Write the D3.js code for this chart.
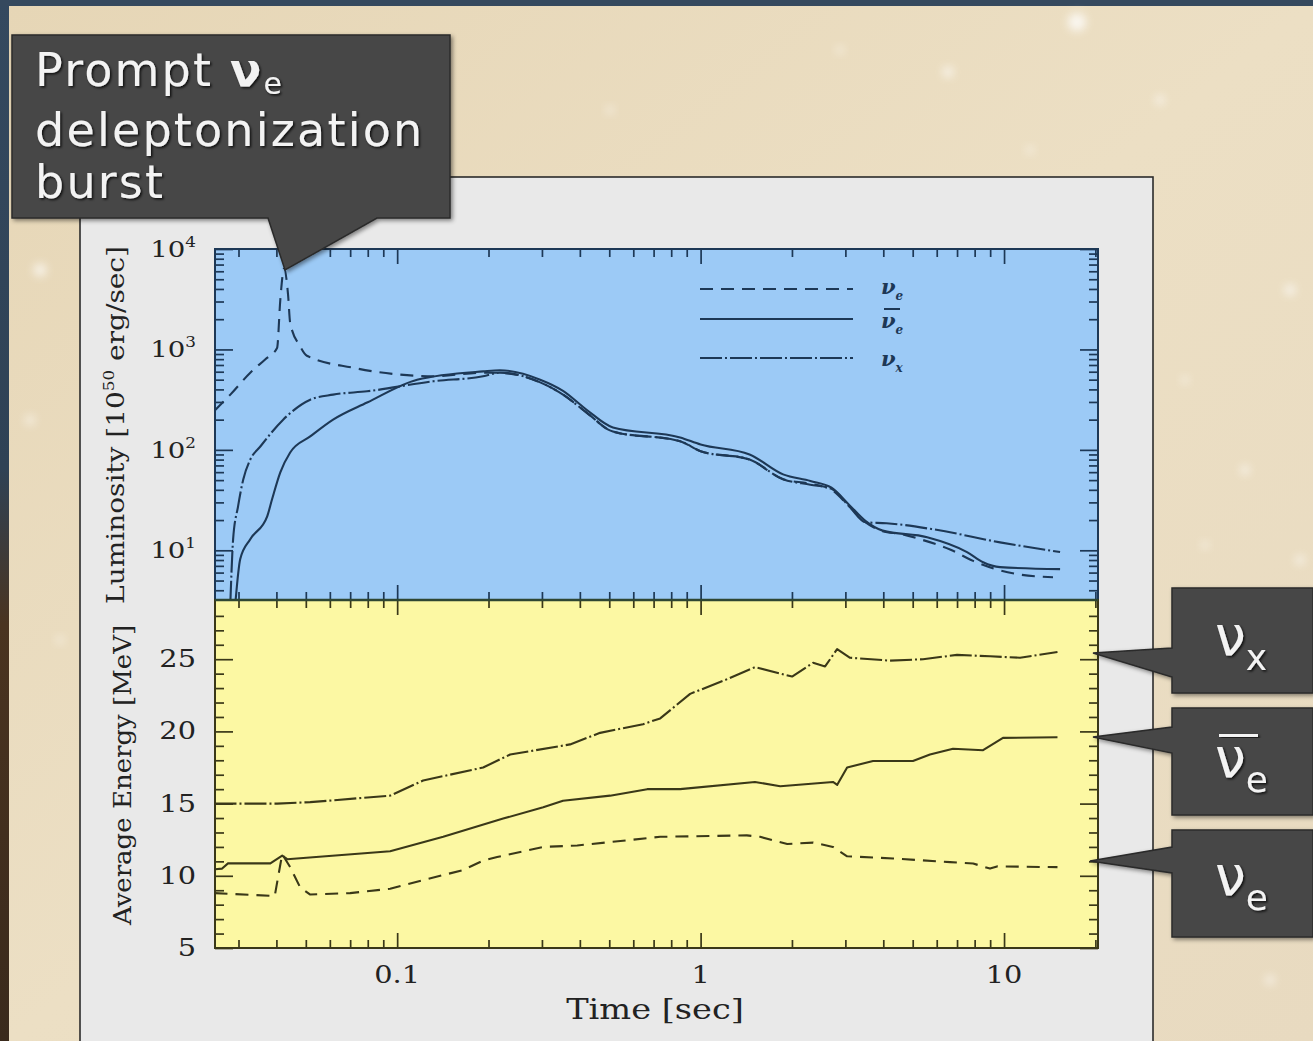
<!DOCTYPE html>
<html>
<head>
<meta charset="utf-8">
<script src="https://cdn.jsdelivr.net/npm/d3@7"></script>
<style>
  body { margin: 0; overflow: hidden; background: #e9dcc0; }
  svg { display: block; }
</style>
</head>
<body>
<svg id="chart" width="1313" height="1041"></svg>
<script>
// ---- Luminosity [10^50 erg/s] vs time [s] ----
const lumTimeNuE = [0.025, 0.0282, 0.0328, 0.0368, 0.0402, 0.0412, 0.0424, 0.0437, 0.0444, 0.0479, 0.0504, 0.0716, 0.1023, 0.1314, 0.192, 0.218, 0.296, 0.352, 0.421, 0.514, 0.856, 1.0, 1.45, 1.87, 2.3, 2.7, 3.1, 3.5, 3.98, 4.6, 5.29, 6.64, 7.91, 11.0, 14.5];
const lumNuE     = [245, 355, 587, 800, 1032, 3120, 6400, 3500, 1841, 1072, 865, 657, 561, 540, 587, 585, 470, 355, 235, 152, 122, 97, 80, 51, 46, 40, 27, 19, 15.5, 14.5, 12.9, 10.2, 7.85, 5.8, 5.4];

const lumTimeNuEbar = [0.0293, 0.0304, 0.0328, 0.0373, 0.0387, 0.0412, 0.0444, 0.0517, 0.0615, 0.0796, 0.1164, 0.192, 0.218, 0.296, 0.352, 0.421, 0.514, 0.856, 1.0, 1.45, 1.87, 2.3, 2.7, 3.1, 3.5, 3.98, 5.58, 7.55, 8.53, 9.7, 15.3];
const lumNuEbar     = [3.0, 8.2, 12.9, 21.8, 32.2, 59.7, 94.2, 136, 200, 296, 500, 605, 620, 500, 387, 251, 167, 133, 113, 90, 57, 49, 42, 28, 19.5, 15.7, 13.5, 9.6, 7.6, 6.8, 6.5];

const lumTimeNuX = [0.0282, 0.0288, 0.0299, 0.0311, 0.0328, 0.0354, 0.0421, 0.0517, 0.0615, 0.0796, 0.1314, 0.192, 0.218, 0.296, 0.352, 0.421, 0.514, 0.856, 1.0, 1.45, 1.87, 2.3, 2.7, 3.1, 3.5, 4.1, 5.83, 9.7, 15.3];
const lumNuX     = [3.0, 12.9, 27.4, 50.8, 80, 108, 200, 316, 355, 383, 482, 540, 587, 470, 355, 235, 152, 122, 97, 80, 51, 45, 41, 27, 19, 18.6, 16.2, 12.0, 9.6];

// ---- Average energy [MeV] vs time [s] ----
const engTimeNuE = [0.025, 0.0395, 0.0405, 0.0418, 0.0444, 0.0479, 0.0517, 0.070, 0.0948, 0.1218, 0.165, 0.192, 0.2136, 0.303, 0.392, 0.736, 1.42, 1.57, 1.93, 2.35, 2.73, 3.04, 4.31, 6.64, 7.91, 8.99, 9.48, 15.0];
const engNuE     = [8.8, 8.6, 9.9, 11.5, 10.6, 9.2, 8.7, 8.8, 9.1, 9.7, 10.4, 11.05, 11.3, 12.0, 12.1, 12.7, 12.8, 12.7, 12.2, 12.3, 12.0, 11.35, 11.2, 10.95, 10.85, 10.5, 10.65, 10.6];

const engTimeNuEbar = [0.025, 0.0265, 0.0277, 0.0382, 0.0418, 0.0434, 0.0948, 0.1418, 0.2235, 0.303, 0.352, 0.503, 0.667, 0.856, 1.51, 1.83, 2.73, 2.82, 3.04, 3.70, 5.01, 5.70, 6.79, 8.53, 9.92, 15.0];
const engNuEbar     = [10.45, 10.5, 10.86, 10.86, 11.4, 11.15, 11.7, 12.7, 13.96, 14.75, 15.2, 15.55, 16.0, 16.0, 16.5, 16.2, 16.5, 16.3, 17.5, 17.95, 17.95, 18.4, 18.8, 18.7, 19.55, 19.6];

const engTimeNuX = [0.025, 0.0402, 0.0517, 0.0948, 0.1218, 0.192, 0.2357, 0.3715, 0.4665, 0.646, 0.736, 0.9235, 1.186, 1.512, 2.002, 2.348, 2.572, 2.818, 3.109, 4.21, 5.41, 7.0, 8.99, 11.29, 15.0];
const engNuX     = [15.0, 15.0, 15.1, 15.55, 16.6, 17.5, 18.4, 19.1, 19.9, 20.5, 20.9, 22.6, 23.5, 24.45, 23.8, 24.75, 24.5, 25.7, 25.1, 24.9, 25.0, 25.3, 25.2, 25.1, 25.5];

// ---- Axis ticks / labels ----
const timeMajor = [0.1, 1, 10];
const timeLabels = ["0.1", "1", "10"];
const lumMajor = [10, 100, 1000, 10000];
const lumLabelExp = ["1", "2", "3", "4"];
const engMajor = [5, 10, 15, 20, 25];
const engLabels = ["5", "10", "15", "20", "25"];

// ---- Layout ----
const W = 1313, H = 1041;
const plotL = 215, plotR = 1098, topT = 249, mid = 600, botB = 948;

const svg = d3.select("#chart");
const defs = svg.append("defs");

// soft glow for background specks
const blur = defs.append("filter").attr("id", "speck").attr("x", "-100%").attr("y", "-100%").attr("width", "300%").attr("height", "300%");
blur.append("feGaussianBlur").attr("stdDeviation", 5);

const shadow = defs.append("filter").attr("id", "boxShadow").attr("x", "-10%").attr("y", "-10%").attr("width", "130%").attr("height", "130%");
shadow.append("feDropShadow").attr("dx", 2).attr("dy", 2).attr("stdDeviation", 2).attr("flood-color", "#000").attr("flood-opacity", 0.45);

const txtShadow = defs.append("filter").attr("id", "txtShadow").attr("x", "-10%").attr("y", "-20%").attr("width", "130%").attr("height", "150%");
txtShadow.append("feDropShadow").attr("dx", 1.5).attr("dy", 1.5).attr("stdDeviation", 0.8).attr("flood-color", "#000").attr("flood-opacity", 0.8);

const bgGrad = defs.append("linearGradient").attr("id", "bgGrad").attr("x1", 0).attr("y1", 0).attr("x2", 1).attr("y2", 1);
bgGrad.append("stop").attr("offset", "0%").attr("stop-color", "#e6d6b6");
bgGrad.append("stop").attr("offset", "50%").attr("stop-color", "#ecdfc4");
bgGrad.append("stop").attr("offset", "100%").attr("stop-color", "#e8dac0");

const edgeGrad = defs.append("linearGradient").attr("id", "edgeGrad").attr("x1", 0).attr("y1", 0).attr("x2", 0).attr("y2", 1);
edgeGrad.append("stop").attr("offset", "0%").attr("stop-color", "#34495f");
edgeGrad.append("stop").attr("offset", "45%").attr("stop-color", "#2f4255");
edgeGrad.append("stop").attr("offset", "60%").attr("stop-color", "#4a3420");
edgeGrad.append("stop").attr("offset", "100%").attr("stop-color", "#3a2a1c");

// ---- Backdrop ----
svg.append("rect").attr("width", W).attr("height", H).attr("fill", "url(#edgeGrad)");
svg.append("rect").attr("x", 0).attr("y", 0).attr("width", W).attr("height", 6).attr("fill", "#35495e");
svg.append("rect").attr("x", 9).attr("y", 6).attr("width", W - 9).attr("height", H - 6).attr("fill", "url(#bgGrad)");

const specks = [[1077, 22, 9], [948, 72, 5], [1160, 100, 4], [840, 50, 3], [1290, 290, 5], [1245, 470, 4],
                [1205, 545, 3], [1300, 560, 4], [40, 270, 6], [30, 420, 4], [610, 110, 3], [1030, 150, 3],
                [1185, 380, 3], [1270, 980, 4], [60, 640, 3]];
svg.append("g").selectAll("circle").data(specks).join("circle")
  .attr("cx", d => d[0]).attr("cy", d => d[1]).attr("r", d => d[2])
  .attr("fill", "#ffffff").attr("opacity", 0.8).attr("filter", "url(#speck)");

// light grey figure sheet
svg.append("rect").attr("x", 80).attr("y", 177).attr("width", 1073).attr("height", H - 177 + 5)
  .attr("fill", "#e9e9e9").attr("stroke", "#2b2b2b").attr("stroke-width", 1.6);

// ---- Scales ----
const x = d3.scaleLog().domain([0.0251, 20.4]).range([plotL, plotR]);
const yL = d3.scaleLog().domain([3.2, 1e4]).range([mid, topT]);
const yE = d3.scaleLinear().domain([5, 29.1]).range([botB, mid]);

const topInk = "#1d3856";
const botInk = "#3a3818";

// panel fills
svg.append("rect").attr("x", plotL).attr("y", topT).attr("width", plotR - plotL).attr("height", mid - topT).attr("fill", "#9ccaf6");
svg.append("rect").attr("x", plotL).attr("y", mid).attr("width", plotR - plotL).attr("height", botB - mid).attr("fill", "#fcf8a3");

defs.append("clipPath").attr("id", "clipTop").append("rect")
  .attr("x", plotL).attr("y", topT).attr("width", plotR - plotL).attr("height", mid - topT);
defs.append("clipPath").attr("id", "clipBot").append("rect")
  .attr("x", plotL).attr("y", mid).attr("width", plotR - plotL).attr("height", botB - mid);

// ---- Tick marks ----
function tickMarks(axisFn, scale, values, len, color, tx, ty) {
  const g = svg.append("g").attr("transform", `translate(${tx},${ty})`);
  g.call(axisFn(scale).tickValues(values).tickSize(-len).tickFormat(""));
  g.select(".domain").remove();
  g.selectAll("line").attr("stroke", color).attr("stroke-width", 1.7);
  return g;
}

const timeMinor = [];
[0.01, 0.1, 1, 10].forEach(dec => {
  for (let k = 2; k <= 9; k++) {
    const v = k * dec;
    if (v > x.domain()[0] && v < x.domain()[1]) timeMinor.push(v);
  }
});
const lumMinor = [];
[1, 10, 100, 1000].forEach(dec => {
  for (let k = 2; k <= 9; k++) {
    const v = k * dec;
    if (v > yL.domain()[0] && v < yL.domain()[1]) lumMinor.push(v);
  }
});
const engMinor = d3.range(6, 29).filter(v => v % 5 !== 0);

// time ticks on every horizontal edge
tickMarks(d3.axisTop, x, timeMajor, 15, topInk, 0, topT);
tickMarks(d3.axisTop, x, timeMinor, 8, topInk, 0, topT);
tickMarks(d3.axisBottom, x, timeMajor, 15, topInk, 0, mid);
tickMarks(d3.axisBottom, x, timeMinor, 8, topInk, 0, mid);
tickMarks(d3.axisTop, x, timeMajor, 15, botInk, 0, mid);
tickMarks(d3.axisTop, x, timeMinor, 8, botInk, 0, mid);
tickMarks(d3.axisBottom, x, timeMajor, 15, botInk, 0, botB);
tickMarks(d3.axisBottom, x, timeMinor, 8, botInk, 0, botB);

// luminosity ticks, left and right
tickMarks(d3.axisLeft, yL, lumMajor, 18, topInk, plotL, 0);
tickMarks(d3.axisLeft, yL, lumMinor, 9, topInk, plotL, 0);
tickMarks(d3.axisRight, yL, lumMajor, 18, topInk, plotR, 0);
tickMarks(d3.axisRight, yL, lumMinor, 9, topInk, plotR, 0);

// energy ticks, left and right
tickMarks(d3.axisLeft, yE, engMajor, 18, botInk, plotL, 0);
tickMarks(d3.axisLeft, yE, engMinor, 9, botInk, plotL, 0);
tickMarks(d3.axisRight, yE, engMajor, 18, botInk, plotR, 0);
tickMarks(d3.axisRight, yE, engMinor, 9, botInk, plotR, 0);

// ---- Curves ----
const styles = {
  nue:    { dash: "13,8" },
  nuebar: { dash: null },
  nux:    { dash: "22,3,2,3" }
};

function drawSeries(times, vals, yScale, clip, color, style, curve) {
  const line = d3.line().curve(curve).x(d => x(d[0])).y(d => yScale(d[1]));
  svg.append("path")
    .datum(d3.zip(times, vals))
    .attr("clip-path", `url(#${clip})`)
    .attr("d", line)
    .attr("fill", "none")
    .attr("stroke", color)
    .attr("stroke-width", 2.1)
    .attr("stroke-linejoin", "round")
    .attr("stroke-dasharray", style.dash);
}

// luminosity curves are smooth; energy curves keep their small kinks
drawSeries(lumTimeNuE, lumNuE, yL, "clipTop", topInk, styles.nue, d3.curveMonotoneX);
drawSeries(lumTimeNuEbar, lumNuEbar, yL, "clipTop", topInk, styles.nuebar, d3.curveMonotoneX);
drawSeries(lumTimeNuX, lumNuX, yL, "clipTop", topInk, styles.nux, d3.curveMonotoneX);

drawSeries(engTimeNuE, engNuE, yE, "clipBot", botInk, styles.nue, d3.curveLinear);
drawSeries(engTimeNuEbar, engNuEbar, yE, "clipBot", botInk, styles.nuebar, d3.curveLinear);
drawSeries(engTimeNuX, engNuX, yE, "clipBot", botInk, styles.nux, d3.curveLinear);

// panel frames
svg.append("rect").attr("x", plotL).attr("y", topT).attr("width", plotR - plotL).attr("height", mid - topT)
  .attr("fill", "none").attr("stroke", topInk).attr("stroke-width", 2);
svg.append("rect").attr("x", plotL).attr("y", mid).attr("width", plotR - plotL).attr("height", botB - mid)
  .attr("fill", "none").attr("stroke", botInk).attr("stroke-width", 2);
svg.append("line").attr("x1", plotL).attr("x2", plotR).attr("y1", mid).attr("y2", mid)
  .attr("stroke", "#2e4632").attr("stroke-width", 2.4);

// ---- Legend ----
const legendRows = [
  { y: 289, style: styles.nue, sub: "e", bar: false, ty: 294 },
  { y: 319, style: styles.nuebar, sub: "e", bar: true, ty: 328 },
  { y: 358, style: styles.nux, sub: "x", bar: false, ty: 366 }
];
const leg = svg.append("g");
legendRows.forEach(r => {
  leg.append("line").attr("x1", 700).attr("x2", 853).attr("y1", r.y).attr("y2", r.y)
    .attr("stroke", topInk).attr("stroke-width", 2.1).attr("stroke-dasharray", r.style.dash);
  const t = leg.append("text").attr("x", 881).attr("y", r.ty)
    .attr("font-family", "DejaVu Serif").attr("font-style", "italic").attr("font-weight", "bold")
    .attr("font-size", 21).attr("fill", topInk);
  t.append("tspan").text("ν");
  t.append("tspan").attr("dy", 6).attr("font-size", 12).text(r.sub);
  if (r.bar) {
    leg.append("line").attr("x1", 884).attr("x2", 900).attr("y1", r.ty - 19).attr("y2", r.ty - 19)
      .attr("stroke", topInk).attr("stroke-width", 2);
  }
});

// ---- Axis labels (wide serif look: stretched horizontally) ----
const serif = "DejaVu Serif";
const labelInk = "#222";
const stretch = 1.2;

svg.append("g").selectAll("text").data(timeMajor).join("text")
  .attr("transform", d => `translate(${x(d)},983) scale(${stretch},1)`)
  .attr("text-anchor", "middle")
  .attr("font-family", serif).attr("font-size", 24).attr("fill", labelInk)
  .text((d, i) => timeLabels[i]);

svg.append("text").attr("transform", `translate(655,1019) scale(${stretch},1)`).attr("text-anchor", "middle")
  .attr("font-family", serif).attr("font-size", 28).attr("fill", labelInk)
  .text("Time [sec]");

const lumLab = svg.append("g").selectAll("text").data(lumMajor).join("text")
  .attr("transform", d => `translate(196,${yL(d) + 8}) scale(${stretch},1)`)
  .attr("text-anchor", "end")
  .attr("font-family", serif).attr("font-size", 23).attr("fill", labelInk);
lumLab.append("tspan").text("10");
lumLab.append("tspan").attr("dy", -10).attr("font-size", 14).text((d, i) => lumLabelExp[i]);

svg.append("g").selectAll("text").data(engMajor).join("text")
  .attr("transform", d => `translate(196,${yE(d) + 8}) scale(${stretch},1)`)
  .attr("text-anchor", "end")
  .attr("font-family", serif).attr("font-size", 24).attr("fill", labelInk)
  .text((d, i) => engLabels[i]);

const lumTitle = svg.append("text").attr("transform", "translate(124,425) rotate(-90) scale(1.12,1)")
  .attr("text-anchor", "middle").attr("font-family", serif).attr("font-size", 25).attr("fill", labelInk);
lumTitle.append("tspan").text("Luminosity [10");
lumTitle.append("tspan").attr("dy", -10).attr("font-size", 15).text("50");
lumTitle.append("tspan").attr("dy", 10).text(" erg/sec]");

svg.append("text").attr("transform", "translate(131,775) rotate(-90) scale(1.04,1)")
  .attr("text-anchor", "middle").attr("font-family", serif).attr("font-size", 25).attr("fill", labelInk)
  .text("Average Energy [MeV]");

// ---- Callouts ----
const boxFill = "#474747";
const sans = "DejaVu Sans";
const calloutInk = "#f3f3f3";

svg.append("path")
  .attr("d", "M12,35 H450 V218 H377 L285,270 L268,218 H12 Z")
  .attr("fill", boxFill).attr("stroke", "#2a2a2a").attr("stroke-width", 1.5)
  .attr("filter", "url(#boxShadow)");

const promptLines = svg.append("g").attr("font-family", sans).attr("font-size", 46)
  .attr("letter-spacing", 2.2).attr("fill", calloutInk).attr("filter", "url(#txtShadow)");
const l1 = promptLines.append("text").attr("x", 35).attr("y", 86);
l1.append("tspan").text("Prompt ");
l1.append("tspan").attr("font-weight", "bold").text("ν");
l1.append("tspan").attr("dy", 8).attr("font-size", 30).text("e");
promptLines.append("text").attr("x", 35).attr("y", 146).text("deleptonization");
promptLines.append("text").attr("x", 35).attr("y", 198).text("burst");

const sideBoxes = [
  { d: "M1313,588 H1172 V648 L1093,653 L1172,677 V693 H1313 Z", base: 655, sub: "x", bar: false },
  { d: "M1313,708 H1172 V727 L1093,737 L1172,753 V815 H1313 Z", base: 777, sub: "e", bar: true },
  { d: "M1313,830 H1172 V847 L1090,861 L1172,873 V937 H1313 Z", base: 895, sub: "e", bar: false }
];
sideBoxes.forEach(b => {
  svg.append("path").attr("d", b.d).attr("fill", boxFill).attr("stroke", "#2a2a2a").attr("stroke-width", 1.5)
    .attr("filter", "url(#boxShadow)");
  const t = svg.append("text").attr("x", 1215).attr("y", b.base)
    .attr("font-family", sans).attr("font-size", 55).attr("fill", calloutInk).attr("filter", "url(#txtShadow)");
  t.append("tspan").text("ν");
  t.append("tspan").attr("dy", 15).attr("font-size", 36).text(b.sub);
  if (b.bar) {
    // overbar of the antineutrino symbol
    svg.append("rect").attr("x", 1219).attr("y", b.base - 43).attr("width", 39).attr("height", 3)
      .attr("fill", calloutInk).attr("filter", "url(#txtShadow)");
  }
});
</script>
</body>
</html>
